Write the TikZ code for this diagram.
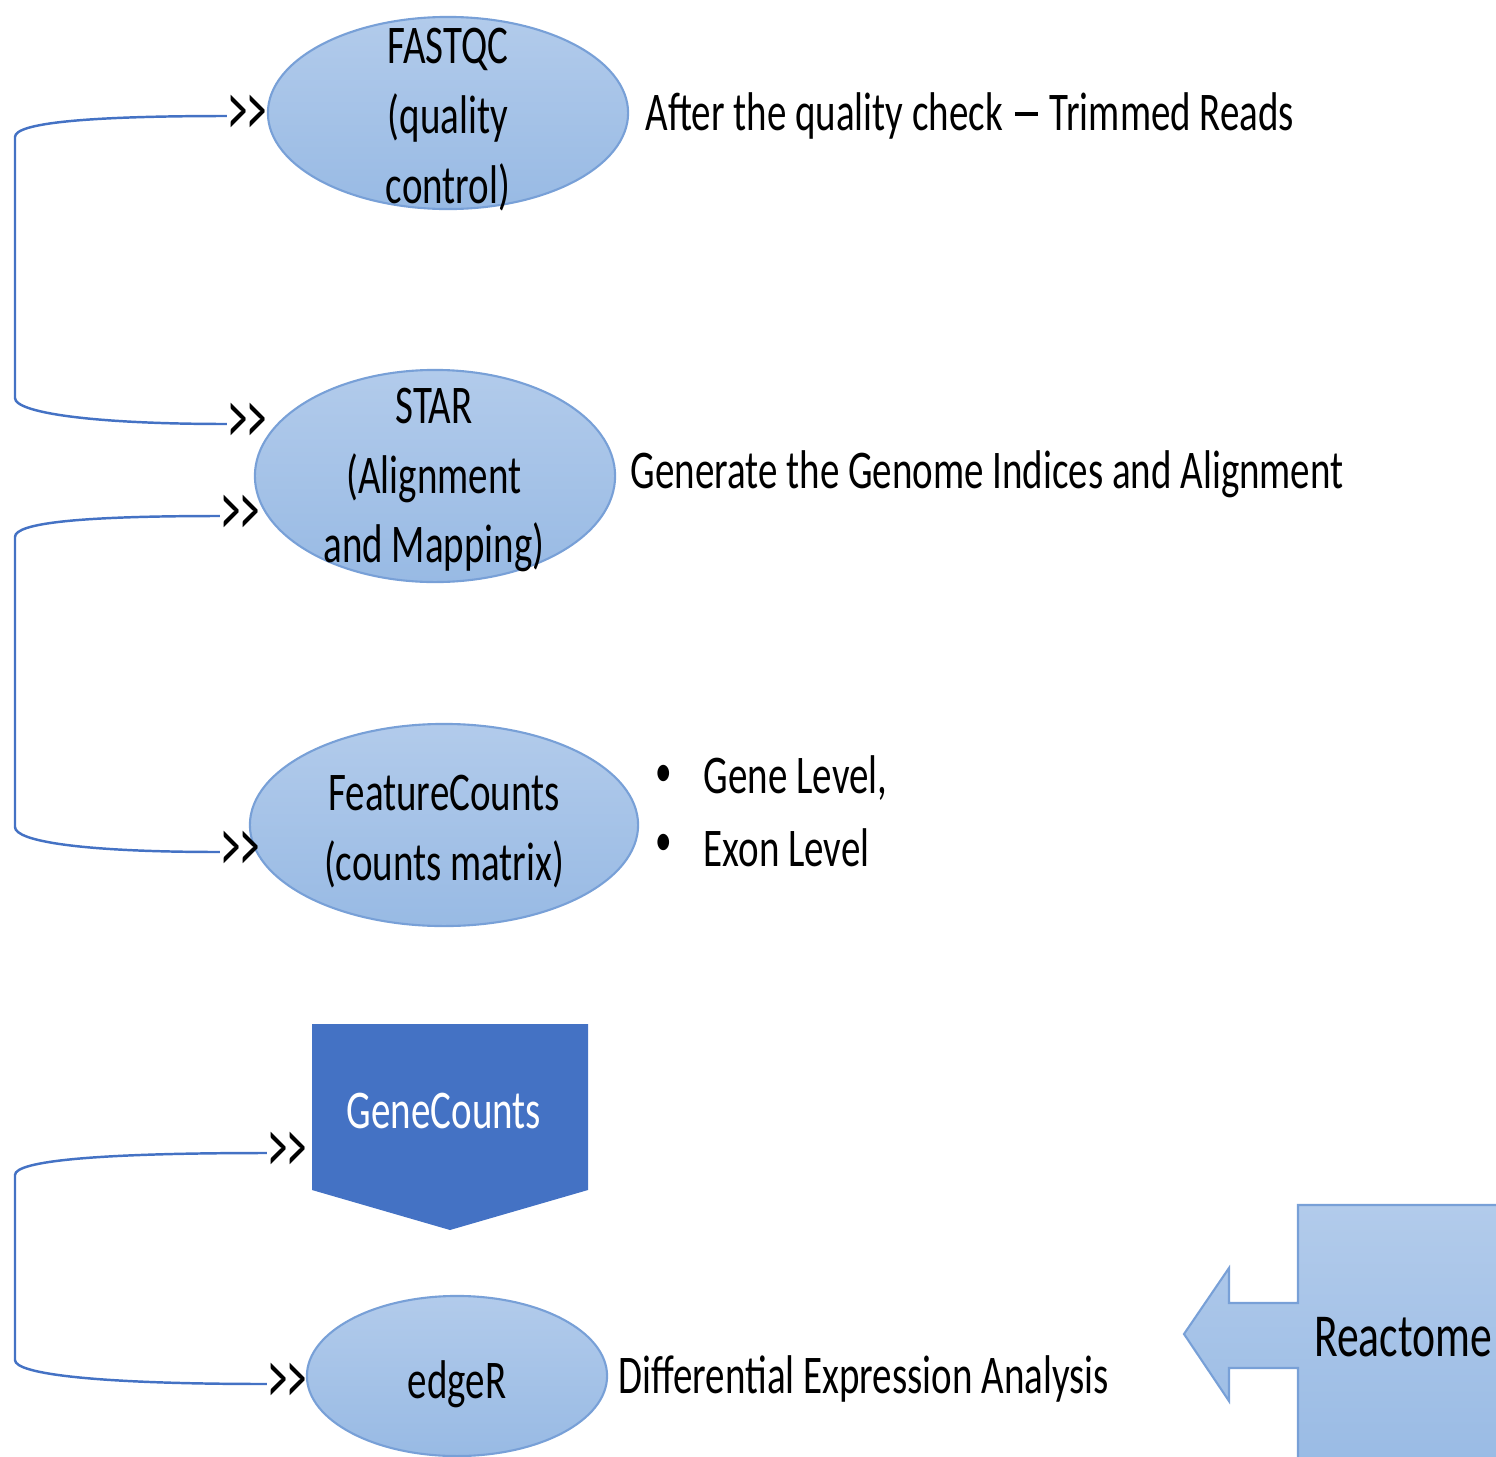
\documentclass[tikz,border=0pt]{standalone}
\usepackage{fontspec}
\setmainfont[FakeStretch=0.715]{Carlito}
\usetikzlibrary{shapes.geometric}
\definecolor{connblue}{HTML}{4472C4}
\definecolor{elltop}{RGB}{178,203,235}
\definecolor{ellbot}{RGB}{152,186,228}
\definecolor{ellline}{RGB}{120,160,215}
\definecolor{gcfill}{HTML}{4472C4}
\tikzset{
  ell/.style={ellipse, draw=ellline, line width=0.6pt, top color=elltop, bottom color=ellbot, inner sep=0pt},
  conn/.style={draw=connblue, line width=0.7pt},
  chev/.style={inner sep=0pt, text=black, xscale=1.05, yscale=1.45},
  lbl/.style={anchor=west, inner sep=0pt},
  bul/.style={anchor=west, inner sep=0pt, scale=0.85},
  etext/.style={align=center, inner sep=0pt},
  rshape/.style={draw=ellline, line width=0.6pt, top color=elltop, bottom color=ellbot}
}
\begin{document}
\begin{tikzpicture}[x=0.01cm,y=-0.01cm,font=\fontsize{15.5}{19.9}\selectfont]
\useasboundingbox (0,0) rectangle (1496,1457);
% ellipses
\node[ell, minimum width=3.6cm, minimum height=1.92cm] (fq) at (448,113) {};
\node[etext] (fqt) at (448,120) {FASTQC\\(quality\\control)};
\node[ell, minimum width=3.6cm, minimum height=2.12cm] (star) at (435,476) {};
\node[etext] (start) at (434,480) {STAR\\(Alignment\\and Mapping)};
\node[ell, minimum width=3.88cm, minimum height=2.02cm] (fc) at (444,825) {};
\node[etext] (fct) at (444,832) {FeatureCounts\\(counts matrix)};
\path[fill=gcfill] (312,1024) -- (588,1024) -- (588,1190) -- (450,1230) -- (312,1190) -- cycle;
\node[etext, text=white] (gc) at (444,1111) {GeneCounts};
\node[ell, minimum width=3.0cm, minimum height=1.6cm] (er) at (457,1376) {};
\node[etext] (ert) at (457,1384) {edgeR};
% Reactome
\begin{scope}
\clip (0,0) rectangle (1496,1457);
\path[rshape] (1298,1205) -- (1520,1205) -- (1520,1480) -- (1298,1480) -- (1298,1368) -- (1229,1368) -- (1229,1401) -- (1184,1334) -- (1229,1268) -- (1229,1303) -- (1298,1303) -- cycle;
\end{scope}
\node[etext, scale=1.12] (react) at (1403,1337) {Reactome};
% chevrons
\node[chev] (m1a) at (247,116) {>\kern-0.5pt>};
\node[chev] (m1b) at (247,424) {>\kern-0.5pt>};
\node[chev] (m2a) at (240,516) {>\kern-0.5pt>};
\node[chev] (m2b) at (240,852) {>\kern-0.5pt>};
\node[chev] (m3a) at (287,1153) {>\kern-0.5pt>};
\node[chev] (m3b) at (287,1384) {>\kern-0.5pt>};
% connectors
\draw[conn] (m1a.west) .. controls +(-140,0) and +(0,-14) .. (15,137) -- (15,398) .. controls +(0,14) and +(-140,0) .. (m1b.west);
\draw[conn] (m2a.west) .. controls +(-140,0) and +(0,-14) .. (15,537) -- (15,827) .. controls +(0,14) and +(-140,0) .. (m2b.west);
\draw[conn] (m3a.west) .. controls +(-170,0) and +(0,-14) .. (15,1175) -- (15,1360) .. controls +(0,14) and +(-170,0) .. (m3b.west);
% labels
\node[lbl] (t1) at (645,116) {After the quality check\hspace{0.22em}\rule[0.27em]{0.42em}{0.07em}\hspace{0.22em}Trimmed Reads};
\node[lbl] (t2) at (630,474) {Generate the Genome Indices and Alignment};
\node[bul] (b1) at (655,776) {•};
\node[lbl] (t3) at (703,778) {Gene Level,};
\node[bul] (b2) at (655,845) {•};
\node[lbl] (t4) at (703,848) {Exon Level};
\node[lbl] (t5) at (618,1379) {Differential Expression Analysis};
\end{tikzpicture}
\end{document}
